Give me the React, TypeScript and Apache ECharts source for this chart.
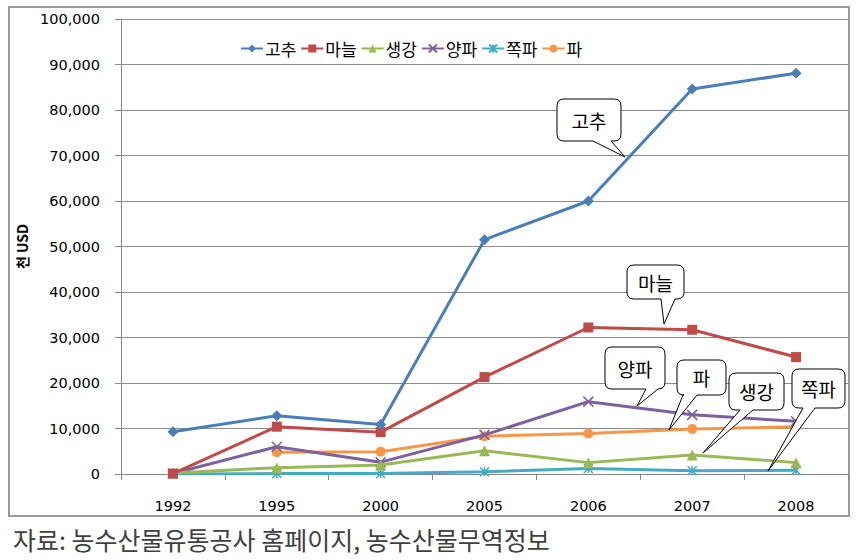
import React, { useEffect, useRef } from "react";
import * as echarts from "echarts";

// ---- data ----
const categories = ["1992", "1995", "2000", "2005", "2006", "2007", "2008"];
const seriesNames = ["고추", "마늘", "생강", "양파", "쪽파", "파"];
const gochu = [9300, 12800, 10900, 51500, 60000, 84600, 88100];
const maneul = [100, 10400, 9200, 21300, 32200, 31700, 25700];
const saenggang = [200, 1400, 2000, 5100, 2500, 4200, 2500];
const yangpa = [100, 6000, 2600, 8600, 15900, 13000, 11600];
const jjokpa = [0, 100, 100, 500, 1200, 700, 800];
const pa = [null, 4800, 4900, 8300, 8900, 9900, 10400];
const yMin = 0;
const yMax = 100000;
const yInterval = 10000;
const yAxisName = "천 USD";
const sourceText = "자료: 농수산물유통공사 홈페이지, 농수산물무역정보";

// ---- styles / layout ----
const colors = ["#4A7EBB", "#BE4B48", "#98B954", "#7D60A0", "#46AAC5", "#F79646"];
const KFONT = "'Noto Sans CJK KR', 'Noto Sans', sans-serif";
const NFONT = "'DejaVu Sans', sans-serif";

const X_SYMBOL = "path://M0,0 L10,10 M10,0 L0,10";
const STAR_SYMBOL = "path://M5,0 L5,10 M0,0 L10,10 M10,0 L0,10";

// callout bubbles: rect (x,y,w,h), tail base on bottom edge (b1,b2), tip (tx,ty)
const callouts = [
  { text: "고추", x: 557, y: 99, w: 64, h: 42, b1: 593, b2: 611, tx: 625, ty: 157 },
  { text: "마늘", x: 627, y: 265, w: 57, h: 34, b1: 661, b2: 675, tx: 664, ty: 324 },
  { text: "양파", x: 605, y: 347, w: 60, h: 42, b1: 646, b2: 658, tx: 637, ty: 406 },
  { text: "파", x: 677, y: 360, w: 49, h: 35, b1: 683, b2: 697, tx: 669, ty: 430 },
  { text: "생강", x: 729, y: 373, w: 55, h: 37, b1: 740, b2: 753, tx: 703, ty: 453 },
  { text: "쪽파", x: 792, y: 369, w: 53, h: 39, b1: 803, b2: 815, tx: 768, ty: 471 },
];

function bubblePath(c: any) {
  const r = 7;
  const { x, y, w, h, b1, b2, tx, ty } = c;
  const x2 = x + w;
  const y2 = y + h;
  return [
    `M${x + r},${y}`,
    `L${x2 - r},${y}`,
    `Q${x2},${y} ${x2},${y + r}`,
    `L${x2},${y2 - r}`,
    `Q${x2},${y2} ${x2 - r},${y2}`,
    `L${b2},${y2}`,
    `L${tx},${ty}`,
    `L${b1},${y2}`,
    `L${x + r},${y2}`,
    `Q${x},${y2} ${x},${y2 - r}`,
    `L${x},${y + r}`,
    `Q${x},${y} ${x + r},${y}`,
    "Z",
  ].join(" ");
}

let registered = false;
function registerBubbles() {
  if (registered) return;
  callouts.forEach((c, i) => {
    echarts.graphic.registerShape("bubble" + i, echarts.graphic.extendPath(bubblePath(c), {}) as any);
  });
  registered = true;
}

export default function App() {
  const ref = useRef<HTMLDivElement>(null);
  useEffect(() => {
    if (!ref.current) return;
    registerBubbles();
    const chart = echarts.init(ref.current, null, { renderer: "svg" });
    const dataArr = [gochu, maneul, saenggang, yangpa, jjokpa, pa];
    const symbols = ["diamond", "rect", "triangle", X_SYMBOL, STAR_SYMBOL, "circle"];
    const sizes = [11, 10, 11, 10, 9, 10];
    const series = seriesNames.map((name, i) => ({
      name,
      type: "line",
      data: dataArr[i],
      symbol: symbols[i],
      symbolSize: sizes[i],
      showSymbol: true,
      lineStyle: { color: colors[i], width: 3 },
      itemStyle: {
        color: colors[i],
        borderColor: colors[i],
        borderWidth: i === 3 || i === 4 ? 1.5 : 0,
      },
      z: 10 - i,
    }));

    const graphics: any[] = [
      {
        type: "rect",
        shape: { x: 9, y: 7, width: 840, height: 509 },
        style: { fill: "none", stroke: "#9a9a9a", lineWidth: 2 },
        silent: true,
        z: 0,
      },
      {
        type: "text",
        left: 13,
        top: 526,
        style: {
          text: sourceText,
          font: `25px ${KFONT}`,
          fill: "#404040",
        },
      },
    ];
    callouts.forEach((c, i) => {
      graphics.push({
        type: "bubble" + i,
        x: 0,
        y: 0,
        style: { fill: "#ffffff", stroke: "#000000", lineWidth: 1 },
        z: 100,
      });
      graphics.push({
        type: "text",
        x: c.x + c.w / 2,
        y: c.y + c.h / 2,
        style: {
          text: c.text,
          font: `19px ${KFONT}`,
          fill: "#000",
          align: "center",
          verticalAlign: "middle",
        },
        z: 101,
      });
    });

    chart.setOption({
      animation: false,
      backgroundColor: "#ffffff",
      grid: { left: 121, right: 18, top: 19, bottom: 86, containLabel: false },
      legend: {
        data: seriesNames,
        left: 235,
        top: 35,
        itemWidth: 22,
        itemHeight: 10,
        itemGap: 4,
        textStyle: { fontFamily: KFONT, fontSize: 17, color: "#000", padding: [0, 0, 0, -3] },
      },
      xAxis: {
        type: "category",
        data: categories,
        boundaryGap: true,
        axisLine: { lineStyle: { color: "#868686", width: 1 } },
        axisTick: { show: true, length: 6, lineStyle: { color: "#868686" } },
        axisLabel: { fontFamily: NFONT, fontSize: 14.5, color: "#000", margin: 24 },
      },
      yAxis: {
        type: "value",
        min: yMin,
        max: yMax,
        interval: yInterval,
        name: yAxisName,
        nameLocation: "middle",
        nameGap: 86,
        nameRotate: 90,
        nameTextStyle: { fontFamily: KFONT, fontSize: 14, fontWeight: "bold", color: "#000" },
        axisLine: { show: true, lineStyle: { color: "#868686", width: 1 } },
        axisTick: { show: true, length: 6, lineStyle: { color: "#868686" } },
        axisLabel: {
          fontFamily: NFONT,
          fontSize: 14.5,
          color: "#000",
          margin: 21,
          formatter: (v: number) => v.toLocaleString("en-US"),
        },
        splitLine: { show: true, lineStyle: { color: "#8c8c8c", width: 1 } },
      },
      series,
      graphic: graphics,
    });
    return () => chart.dispose();
  }, []);
  return (
    <div
      ref={ref}
      style={{ position: "absolute", left: 0, top: 0, width: 866, height: 560, background: "#fff" }}
    />
  );
}
